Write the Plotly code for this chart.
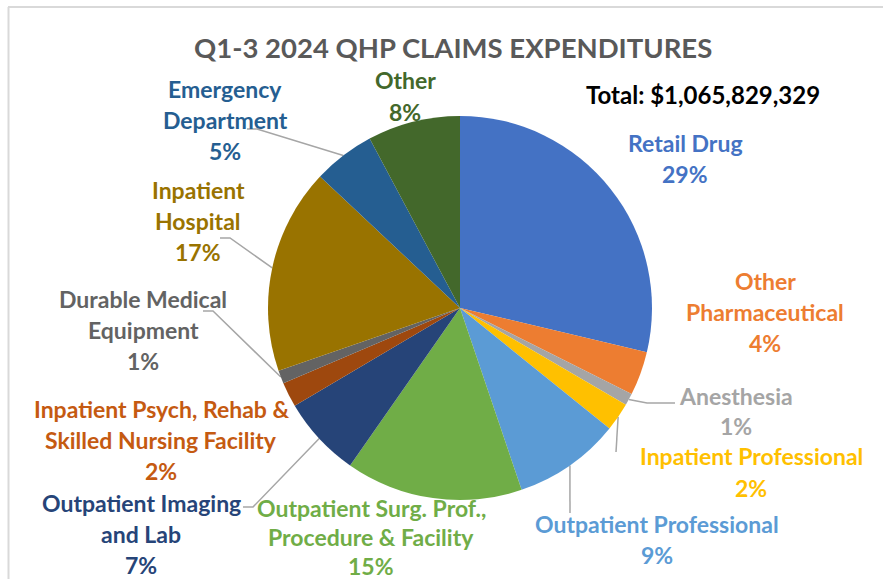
import math
import plotly.graph_objects as go

# ---------------- data ----------------
CATEGORIES = [
    "Retail Drug",
    "Other<br>Pharmaceutical",
    "Anesthesia",
    "Inpatient Professional",
    "Outpatient Professional",
    "Outpatient Surg. Prof.,<br>Procedure & Facility",
    "Outpatient Imaging<br>and Lab",
    "Inpatient Psych, Rehab &<br>Skilled Nursing Facility",
    "Durable Medical<br>Equipment",
    "Inpatient<br>Hospital",
    "Emergency<br>Department",
    "Other",
]
SHARES = [28.7, 3.7, 1.0, 2.4, 9.0, 14.9, 6.8, 2.1, 1.1, 17.3, 5.2, 7.8]
TITLE = "Q1-3 2024 QHP CLAIMS EXPENDITURES"
TOTAL_TEXT = "Total: $1,065,829,329"

# ---------------- styles ----------------
W, H = 883, 579
SLICE_COLORS = ["#4472C4", "#ED7D31", "#A5A5A5", "#FFC000", "#5B9BD5", "#70AD47",
                "#264478", "#9E480E", "#636363", "#997300", "#255E91", "#43682B"]
TEXT_COLORS = ["#4472C4", "#ED7D31", "#A5A5A5", "#FFC000", "#5B9BD5", "#70AD47",
               "#264478", "#C55A11", "#636363", "#997300", "#255E91", "#43682B"]
FONT = "Lato, 'Open Sans', sans-serif"
LABEL_SIZE = 23

CX, CY, R = 460, 308, 192  # pie centre / radius in pixels

# label block layout (centre x, first-line centre y) in pixels
LABEL_POS = [(685, 143), (765, 281), (736, 396), (751, 456), (657, 524), (371, 508),
             (141, 503), (161, 409), (143, 299), (198, 190), (225, 89), (405, 80)]
LABEL_GAP = [31, 31, 30, 32, 31, 29, 31, 31, 31, 31, 31, 32]
# leader-line points on the label side (None = no leader)
LEADER_START = [None, None, [(675, 403), (647, 403)], [(616, 452)], [(570, 513)], None,
                [(243, 507), (253, 507)], None, [(203, 311), (213, 311)],
                [(220, 238), (230, 238)], [(247, 129), (257, 129)], None]

total = sum(SHARES)
fig = go.Figure()

fig.add_trace(go.Pie(
    labels=[c.replace("<br>", " ") for c in CATEGORIES],
    values=SHARES,
    sort=False,
    direction="clockwise",
    rotation=0,
    marker=dict(colors=SLICE_COLORS, line=dict(width=0)),
    textinfo="none",
    hoverinfo="skip",
    showlegend=False,
    domain=dict(x=[(CX - R) / W, (CX + R) / W], y=[(H - CY - R) / H, (H - CY + R) / H]),
))

# leader lines, ending on the slice's mid-angle at the pie edge
cum = 0.0
for i, v in enumerate(SHARES):
    mid = (cum + v / 2) / total * 2 * math.pi
    cum += v
    if LEADER_START[i] is None:
        continue
    ex = CX + R * math.sin(mid)
    ey = CY - R * math.cos(mid)
    pts = LEADER_START[i] + [(ex, ey)]
    fig.add_trace(go.Scatter(
        x=[p[0] for p in pts], y=[p[1] for p in pts], mode="lines",
        line=dict(color="#A6A6A6", width=1.5), hoverinfo="skip", showlegend=False,
        xaxis="x", yaxis="y",
    ))

annotations = []
for i, name in enumerate(CATEGORIES):
    pct = f"{round(SHARES[i] / total * 100)}%"
    lines = name.split("<br>") + [pct]
    x0, y0 = LABEL_POS[i]
    for j, t in enumerate(lines):
        annotations.append(dict(
            x=x0, y=y0 + j * LABEL_GAP[i], xref="x", yref="y", text=f"<b>{t}</b>",
            showarrow=False, xanchor="center", yanchor="middle",
            font=dict(family=FONT, size=LABEL_SIZE, color=TEXT_COLORS[i]),
        ))

annotations.append(dict(x=453, y=47, xref="x", yref="y", text=f"<b>{TITLE}</b>",
                        showarrow=False, xanchor="center", yanchor="middle",
                        font=dict(family=FONT, size=27.5, color="#595959")))
annotations.append(dict(x=703, y=94, xref="x", yref="y", text=f"<b>{TOTAL_TEXT}</b>",
                        showarrow=False, xanchor="center", yanchor="middle",
                        font=dict(family=FONT, size=24, color="#000000")))

fig.update_layout(
    width=W, height=H,
    margin=dict(l=0, r=0, t=0, b=0),
    paper_bgcolor="white", plot_bgcolor="rgba(0,0,0,0)",
    xaxis=dict(range=[0, W], visible=False, fixedrange=True, domain=[0, 1]),
    yaxis=dict(range=[H, 0], visible=False, fixedrange=True, domain=[0, 1]),
    annotations=annotations,
    shapes=[
        dict(type="line", xref="x", yref="y", x0=8, x1=W, y0=7, y1=7,
             line=dict(color="#D9D9D9", width=2)),
        dict(type="line", xref="x", yref="y", x0=8.5, x1=8.5, y0=7, y1=H,
             line=dict(color="#D9D9D9", width=2)),
    ],
)

fig.write_html("out.html", config={"displayModeBar": False},
               post_script="document.body.style.margin='0';")
